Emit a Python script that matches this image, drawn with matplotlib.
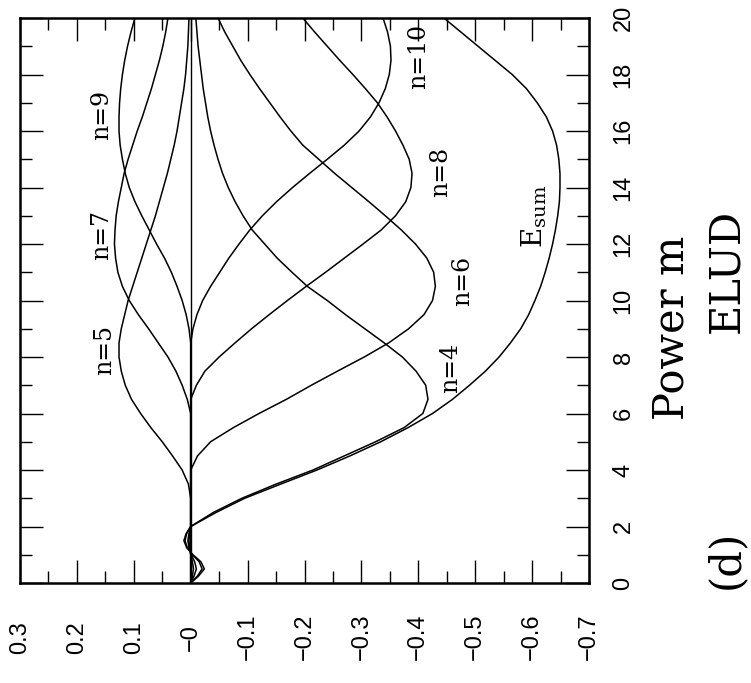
import matplotlib
matplotlib.use("Agg")
import matplotlib.pyplot as plt
from matplotlib.ticker import MultipleLocator

# Power m: quarter steps up to 2, then half steps to 20
power_m = [0.0, 0.25, 0.5, 0.75, 1.0, 1.25, 1.5, 1.75] + [2.0 + 0.5 * k for k in range(37)]

err_n4 = [0.0, -0.012, -0.02, -0.015, -0.003, 0.006, 0.01, 0.007,
          0.0, -0.04, -0.09, -0.15, -0.215, -0.27,
          -0.325, -0.375, -0.408, -0.417, -0.413, -0.396, -0.372, -0.34, -0.306, -0.272,
          -0.24, -0.205, -0.178, -0.152, -0.13, -0.108, -0.092, -0.078, -0.066, -0.056,
          -0.048, -0.041, -0.035, -0.03, -0.026, -0.022, -0.019, -0.016, -0.013, -0.011,
          -0.009]
err_n5 = [0.0, -0.006, -0.01, -0.007, -0.001, 0.003, 0.005, 0.003,
          0.0, 0.0, 0.0, 0.004, 0.015, 0.032,
          0.05, 0.07, 0.088, 0.104, 0.115, 0.122, 0.126, 0.126, 0.122, 0.116,
          0.11, 0.102, 0.094, 0.086, 0.078, 0.07, 0.062, 0.055, 0.048, 0.041,
          0.035, 0.029, 0.024, 0.02, 0.016, 0.012, 0.009, 0.007, 0.005, 0.004,
          0.003]
err_n6 = [0.0, -0.003, -0.005, -0.003, 0.0, 0.002, 0.003, 0.002,
          0.0, 0.0, 0.0, 0.0, 0.0, -0.012,
          -0.035, -0.075, -0.12, -0.168, -0.212, -0.258, -0.305, -0.348, -0.383, -0.41,
          -0.425, -0.43, -0.427, -0.415, -0.395, -0.37, -0.342, -0.313, -0.283, -0.253,
          -0.225, -0.197, -0.176, -0.157, -0.139, -0.121, -0.104, -0.088, -0.074, -0.06,
          -0.048]
err_n7 = [0.0, 0.0, 0.0, 0.0, 0.0, 0.0, 0.0, 0.0,
          0.0, 0.0, 0.0, 0.0, 0.0, 0.0,
          0.0, 0.0, 0.0, 0.006, 0.015, 0.026, 0.04, 0.057, 0.074, 0.092,
          0.108, 0.12, 0.128, 0.132, 0.134, 0.133, 0.131, 0.127, 0.122, 0.117,
          0.11, 0.102, 0.094, 0.085, 0.077, 0.069, 0.062, 0.055, 0.049, 0.044,
          0.04]
err_n8 = [0.0, 0.0, 0.0, 0.0, 0.0, 0.0, 0.0, 0.0,
          0.0, 0.0, 0.0, 0.0, 0.0, 0.0,
          0.0, 0.0, 0.0, 0.0, -0.01, -0.025, -0.05, -0.078, -0.107, -0.138,
          -0.17, -0.203, -0.237, -0.27, -0.303, -0.335, -0.36, -0.378, -0.387, -0.389,
          -0.384, -0.373, -0.36, -0.345, -0.328, -0.307, -0.285, -0.262, -0.24, -0.218,
          -0.197]
err_n9 = [0.0, 0.0, 0.0, 0.0, 0.0, 0.0, 0.0, 0.0,
          0.0, 0.0, 0.0, 0.0, 0.0, 0.0,
          0.0, 0.0, 0.0, 0.0, 0.0, 0.0, 0.0, 0.0, 0.003, 0.008,
          0.015, 0.024, 0.034, 0.046, 0.06, 0.073, 0.086, 0.098, 0.108, 0.115,
          0.12, 0.124, 0.126, 0.126, 0.125, 0.123, 0.12, 0.116, 0.111, 0.105,
          0.098]
err_n10 = [0.0, 0.0, 0.0, 0.0, 0.0, 0.0, 0.0, 0.0,
           0.0, 0.0, 0.0, 0.0, 0.0, 0.0,
           0.0, 0.0, 0.0, 0.0, 0.0, 0.0, 0.0, 0.0, -0.004, -0.011,
           -0.021, -0.035, -0.051, -0.067, -0.085, -0.104, -0.126, -0.151, -0.179, -0.209,
           -0.24, -0.27, -0.296, -0.316, -0.331, -0.342, -0.349, -0.352, -0.351, -0.346,
           -0.338]
err_sum = [0.0, -0.014, -0.024, -0.018, -0.004, 0.007, 0.012, 0.008,
           0.0, -0.045, -0.095, -0.158, -0.222, -0.28,
           -0.334, -0.382, -0.425, -0.46, -0.49, -0.518, -0.542, -0.562, -0.58, -0.594,
           -0.605, -0.615, -0.623, -0.63, -0.636, -0.641, -0.645, -0.648, -0.649, -0.649,
           -0.647, -0.643, -0.636, -0.625, -0.609, -0.59, -0.565, -0.535, -0.505, -0.475,
           -0.445]

curve_labels = ["n=4", "n=5", "n=6", "n=7", "n=8", "n=9", "n=10"]
# label anchor (error value, power m) for each curve label
label_err = [-0.456, 0.152, -0.477, 0.156, -0.440, 0.156, -0.401]
label_m = [7.61, 8.25, 10.69, 12.32, 14.55, 16.57, 18.65]
sum_label_err = -0.603
sum_label_m = 12.99

err_ticks = [0.3, 0.2, 0.1, 0.0, -0.1, -0.2, -0.3, -0.4, -0.5, -0.6, -0.7]
err_tick_labels = ["0.3", "0.2", "0.1", "\u22120", "\u22120.1", "\u22120.2", "\u22120.3",
                   "\u22120.4", "\u22120.5", "\u22120.6", "\u22120.7"]
m_ticks = [0, 2, 4, 6, 8, 10, 12, 14, 16, 18, 20]
m_tick_labels = [str(t) for t in m_ticks]

W, H = 751, 683
fig = plt.figure(figsize=(W / 100, H / 100), dpi=100)
ax = fig.add_axes([20 / W, 100 / H, 569 / W, 565 / H])

ax.axvline(0.0, color="black", lw=1.0)
for series in [err_n4, err_n5, err_n6, err_n7, err_n8, err_n9, err_n10, err_sum]:
    ax.plot(series, power_m, color="black", lw=1.1, solid_joinstyle="round")

ax.set_xlim(0.3, -0.7)
ax.set_ylim(0, 20)

serif = "DejaVu Serif"
for txt, e, m in zip(curve_labels, label_err, label_m):
    ax.text(e, m, txt, rotation=90, ha="center", va="center",
            family=serif, fontsize=17)
ax.text(sum_label_err, sum_label_m, r"E$_{\mathregular{sum}}$", rotation=90,
        ha="center", va="center", family=serif, fontsize=20)

# error axis (drawn along the bottom, labels turned)
ax.set_xticks(err_ticks)
ax.set_xticklabels(err_tick_labels, rotation=90, ha="center", va="center",
                   family="Liberation Sans", fontsize=17)
ax.xaxis.set_minor_locator(MultipleLocator(0.05))
ax.tick_params(axis="x", which="major", direction="in", length=16.5, width=1.0,
               top=True, bottom=True, pad=39)
ax.tick_params(axis="x", which="minor", direction="in", length=8.5, width=1.0,
               top=True, bottom=True)

# power axis (drawn along the right side)
ax.set_yticks(m_ticks)
ax.set_yticklabels(m_tick_labels, rotation=90, ha="left", va="center",
                   family="Liberation Sans", fontsize=17)
ax.yaxis.set_minor_locator(MultipleLocator(1))
ax.tick_params(axis="y", which="major", direction="in", length=16.5, width=1.0,
               left=True, right=True, labelleft=False, labelright=True, pad=17)
ax.tick_params(axis="y", which="minor", direction="in", length=8.5, width=1.0,
               left=True, right=True)

for sp in ax.spines.values():
    sp.set_linewidth(1.8)

fig.text(672 / W, 1 - 328 / H, "Power m", rotation=90, ha="center", va="center",
         family=serif, fontsize=30)
fig.text(726 / W, 1 - 559 / H, "(d)", rotation=90, ha="center", va="center",
         family=serif, fontsize=30)
fig.text(726 / W, 1 - 271 / H, "ELUD", rotation=90, ha="center", va="center",
         family=serif, fontsize=30)

fig.savefig("out.png", dpi=100, facecolor="white")
